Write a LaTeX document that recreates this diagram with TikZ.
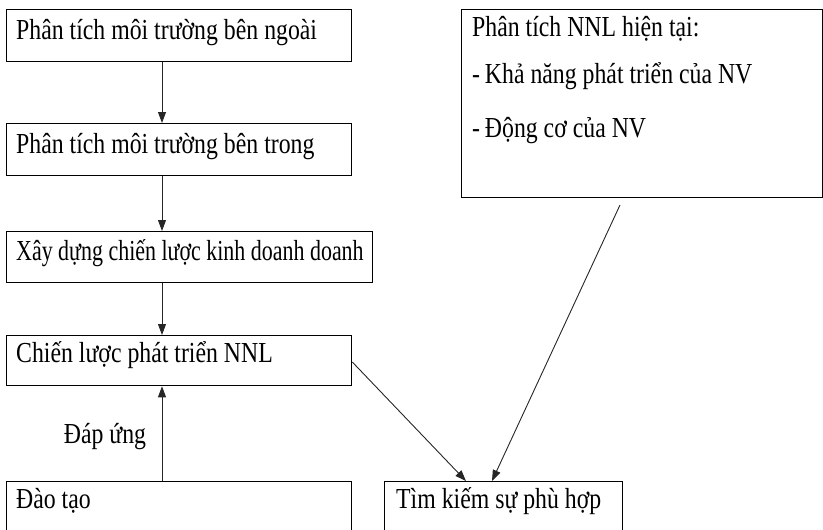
\documentclass[tikz,border=0pt]{standalone}
\usepackage{fontspec}
\setmainfont{Liberation Serif}[FakeStretch=0.82]
\usetikzlibrary{arrows.meta}
\begin{document}
\begin{tikzpicture}[x=1pt,y=1pt,
  box/.style={draw=black,line width=1.3pt,rectangle,inner sep=0pt,anchor=north west},
  lbl/.style={anchor=base west,inner sep=0pt,font=\fontsize{29}{34}\selectfont},
  conn/.style={draw=black!85,line width=0.9pt,-{Triangle[length=11pt,width=8pt]}}]
\useasboundingbox (0,0) rectangle (823,-530);
\clip (0,0) rectangle (823,-530);
\node[box,minimum width=345,minimum height=52] (b1) at (6,-9) {};
\node[lbl] (t1) at (16,-39) {Phân tích môi trường bên ngoài};
\node[box,minimum width=345,minimum height=52] (b2) at (6,-123) {};
\node[lbl] (t2) at (16,-153) {Phân tích môi trường bên trong};
\node[box,minimum width=366,minimum height=51] (b3) at (6,-231) {};
\node[lbl] (t3) at (16,-260) {\scalebox{0.923}[1]{Xây dựng chiến lược kinh doanh doanh}};
\node[box,minimum width=345,minimum height=50] (b4) at (6,-335) {};
\node[lbl] (t4) at (16,-362) {Chiến lược phát triển NNL};
\node[box,minimum width=345,minimum height=70] (b5) at (6,-481) {};
\node[lbl] (t5) at (16,-508) {Đào tạo};
\node[box,minimum width=238,minimum height=70] (b6) at (384,-481) {};
\node[lbl] (t6) at (396,-508) {Tìm kiếm sự phù hợp};
\node[box,minimum width=361,minimum height=188] (b7) at (461,-9) {};
\node[lbl] (t7a) at (472,-36) {Phân tích NNL hiện tại:};
\node[lbl] (t7b) at (472,-83) {-\,Khả năng phát triển của NV};
\node[lbl] (t7c) at (472,-137) {-\,Động cơ của NV};
\node[lbl,anchor=base] (lab) at (105,-443) {Đáp ứng};
\coordinate (s7) at (620,-205);
\draw[conn] (b1.south -| 162,0) -- (b2.north -| 162,0);
\draw[conn] (b2.south -| 162,0) -- (b3.north -| 162,0);
\draw[conn] (b3.south -| 162,0) -- (b4.north -| 162,0);
\draw[conn] (b5.north -| 162,0) -- (b4.south -| 162,0);
\draw[conn] (b4.east |- 0,-362) -- (b6.north -| 466,0);
\draw[conn] (s7) -- (b6.north -| 492,0);
\end{tikzpicture}
\end{document}
